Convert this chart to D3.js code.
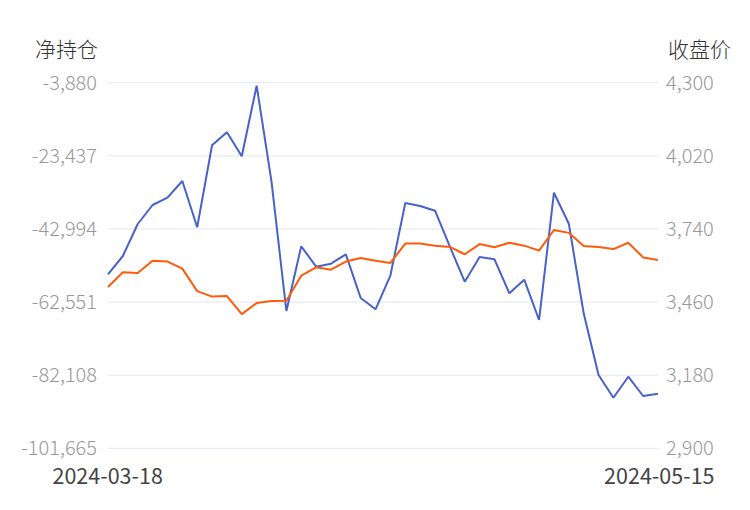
<!DOCTYPE html>
<html><head><meta charset="utf-8">
<script src="https://cdn.jsdelivr.net/npm/d3@7"></script>
<style>
html,body{margin:0;padding:0;background:#fff;}
svg{display:block;font-family:"Noto Sans CJK SC","Noto Sans",sans-serif;}
</style></head><body>
<svg id="c" width="750" height="510"></svg>
<script>
const startDate = "2024-03-18";
const endDate = "2024-05-15";
const netPosition = [-55128,-50232,-41673,-36592,-34639,-30172,-42556,-20624,-17147,-23566,
  -4682,-30360,-64944,-47638,-53094,-52292,-49778,-61466,-64489,-55395,
  -36057,-36859,-38116,-47745,-57107,-50500,-51115,-60209,-56572,-67351,
  -33302,-41593,-65559,-82061,-88133,-82516,-87678,-87063];
const closePrice = [3518,3574,3571,3618,3615,3588,3502,3481,3483,3414,
  3456,3464,3465,3561,3593,3584,3615,3629,3618,3610,
  3684,3684,3676,3671,3643,3682,3670,3687,3676,3657,
  3736,3725,3675,3671,3663,3687,3631,3621];
const leftTicks = [-101665,-82108,-62551,-42994,-23437,-3880];
const rightTicks = [2900,3180,3460,3740,4020,4300];
const leftTitle = "净持仓";
const rightTitle = "收盘价";

const svg = d3.select("#c");
const x0 = 108, x1 = 658, yTop = 82.7, yBot = 448.3;
const idx = d3.range(netPosition.length);
const x = d3.scaleLinear().domain([0, netPosition.length - 1]).range([x0, x1]);
const yL = d3.scaleLinear().domain([leftTicks[0], leftTicks[leftTicks.length-1]]).range([yBot, yTop]);
const yR = d3.scaleLinear().domain([rightTicks[0], rightTicks[rightTicks.length-1]]).range([yBot, yTop]);
const locale = d3.formatLocale({decimal: ".", thousands: ",", grouping: [3], currency: ["", ""], minus: "-"});
const fmt = locale.format(",");

// grid
svg.append("g").selectAll("line").data(leftTicks).join("line")
  .attr("x1", x0).attr("x2", x1)
  .attr("y1", d => yL(d)).attr("y2", d => yL(d))
  .attr("stroke", "#e0e6f1").attr("stroke-width", 1);

// left axis
const gL = svg.append("g").attr("transform", `translate(${x0},0)`)
  .call(d3.axisLeft(yL).tickValues(leftTicks).tickFormat(fmt).tickSize(0).tickPadding(11));
gL.select(".domain").remove();
gL.selectAll("text").attr("fill", "#999").attr("font-size", 20).attr("font-family", "Noto Sans CJK SC").attr("font-weight", 300);

// right axis
const gR = svg.append("g").attr("transform", `translate(${x1},0)`)
  .call(d3.axisRight(yR).tickValues(rightTicks).tickFormat(fmt).tickSize(0).tickPadding(8));
gR.select(".domain").remove();
gR.selectAll("text").attr("fill", "#999").attr("font-size", 20).attr("font-family", "Noto Sans CJK SC").attr("font-weight", 300);

// titles
svg.append("text").attr("x", 35).attr("y", 57).attr("font-size", 21).attr("fill", "#333").attr("font-weight", 300).text(leftTitle);
svg.append("text").attr("x", 731).attr("y", 57).attr("text-anchor", "end").attr("font-size", 21).attr("fill", "#333").attr("font-weight", 300).text(rightTitle);

// x labels
const gX = svg.append("g").attr("transform", `translate(0,${yBot})`)
  .call(d3.axisBottom(x).tickValues([0, netPosition.length - 1])
    .tickFormat(i => i === 0 ? startDate : endDate).tickSize(0).tickPadding(20));
gX.select(".domain").remove();
gX.selectAll("text").attr("fill", "#444").attr("font-size", 21.5).attr("font-family", "Noto Sans CJK SC")
  .attr("text-anchor", (d, i) => i === 0 ? "start" : "end")
  .attr("dx", (d, i) => i === 0 ? -56 : 56);

// lines
const lineL = d3.line().x(i => x(i)).y(i => yL(netPosition[i]));
const lineR = d3.line().x(i => x(i)).y(i => yR(closePrice[i]));
svg.append("path").attr("d", lineL(idx)).attr("fill", "none").attr("stroke", "#4762c8").attr("stroke-width", 2).attr("stroke-linejoin", "bevel");
svg.append("path").attr("d", lineR(idx)).attr("fill", "none").attr("stroke", "#ff5a0a").attr("stroke-width", 2).attr("stroke-linejoin", "bevel");
</script>
</body></html>
